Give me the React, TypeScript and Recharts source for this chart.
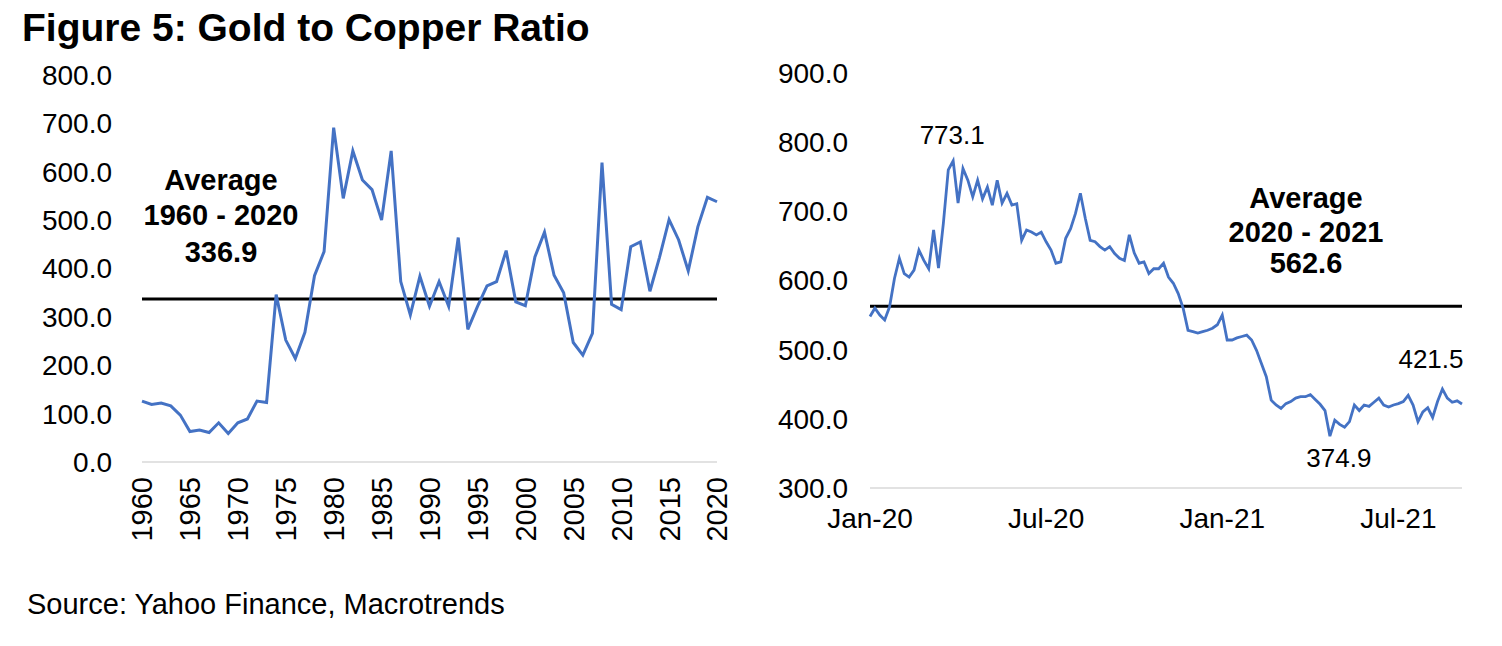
import React from "react";
import { LineChart, Line, XAxis, YAxis, ReferenceLine, ReferenceDot } from "recharts";

const FONT = "'Liberation Sans', Arial, Helvetica, sans-serif";
const BLUE = "#4472C4";

// left panel: annual gold/copper ratio 1960-2020
const annualRatio = [
  126, 119, 122, 116, 97, 63, 66, 61, 81, 59,
  81, 89, 126, 123, 346, 252, 214, 268, 385, 435,
  691, 545, 643, 583, 563, 500, 643, 373, 304, 384,
  322, 373, 322, 464, 274, 321, 364, 373, 437, 331,
  323, 424, 475, 386, 350, 247, 221, 266, 619, 326,
  315, 445, 455, 353, 423, 501, 459, 395, 486, 547,
  538,
];
const yearTicks = [1960, 1965, 1970, 1975, 1980, 1985, 1990, 1995, 2000, 2005, 2010, 2015, 2020];
const leftYTicks = [0, 100, 200, 300, 400, 500, 600, 700, 800];
const leftAverage = 336.9;

// right panel: roughly weekly readings Jan 2020 - Sep 2021
const weeklyRatio = [
  548, 560, 550, 543, 562, 603, 632, 610, 605, 615,
  644, 629, 617, 673, 618, 683, 760, 773.1, 712, 762,
  745, 721, 745, 718, 735, 709, 745, 712, 726, 709,
  711, 658, 673, 670, 666, 670, 656, 644, 625, 627,
  661, 675, 697, 726, 690, 658, 656, 649, 644, 649,
  639, 632, 629, 666, 640, 625, 627, 610, 617, 617,
  625, 605, 596, 581, 560, 528, 526, 524, 526, 528,
  531, 536, 550, 514, 514, 517, 519, 521, 514, 499,
  480, 461, 427, 420, 415, 422, 425, 430, 432, 432,
  435, 428, 421, 412, 374.9, 398, 392, 388, 396, 420,
  412, 420, 418, 424, 430, 420, 417, 420, 422, 425,
  434, 420, 396, 410, 416, 402, 425, 443, 430, 424,
  426, 421.5,
];
const dateTickIdx = [0, 36, 72, 108];
const dateTickLabels = ["Jan-20", "Jul-20", "Jan-21", "Jul-21"];
const rightYTicks = [300, 400, 500, 600, 700, 800, 900];
const rightAverage = 562.6;

const annualData = annualRatio.map((v, i) => ({ year: 1960 + i, ratio: v }));
const weeklyData = weeklyRatio.map((v, i) => ({ t: i, ratio: v }));

const maxIdx = weeklyRatio.indexOf(Math.max(...weeklyRatio));
const minIdx = weeklyRatio.indexOf(Math.min(...weeklyRatio));
const lastIdx = weeklyRatio.length - 1;

function YearTick({ x, y, payload }: any) {
  return (
    <text
      x={x}
      y={y}
      transform={`rotate(-90 ${x} ${y})`}
      textAnchor="end"
      dy="0.36em"
      fontSize={29}
      fontFamily={FONT}
      fill="#000"
    >
      {payload.value}
    </text>
  );
}

function DotLabel({ viewBox, text, dx = 0, dy = 0 }: any) {
  const cx = viewBox.x + viewBox.width / 2;
  const cy = viewBox.y + viewBox.height / 2;
  return (
    <text x={cx + dx} y={cy + dy} textAnchor="middle" fontSize={26} fontFamily={FONT} fill="#000">
      {text}
    </text>
  );
}

const tickStyle = { fontSize: 28, fill: "#000", fontFamily: FONT };

export default function App() {
  return (
    <div style={{ position: "absolute", left: 0, top: 0, width: 1502, height: 646, background: "#fff" }}>
      <div style={{ position: "absolute", left: 0, top: 0 }}>
        <LineChart width={760} height={646} data={annualData} margin={{ top: 75, right: 43, bottom: 0, left: 0 }}>
          <XAxis
            dataKey="year"
            type="number"
            domain={[1960, 2020]}
            ticks={yearTicks}
            interval={0}
            height={184}
            tickLine={false}
            tickSize={0}
            tickMargin={15}
            axisLine={{ stroke: "#d9d9d9", strokeWidth: 1.5 }}
            tick={<YearTick />}
          />
          <YAxis
            domain={[0, 800]}
            ticks={leftYTicks}
            width={142}
            axisLine={false}
            tickLine={false}
            tickSize={0}
            tickMargin={30}
            tick={tickStyle}
            tickFormatter={(v) => v.toFixed(1)}
          />
          <ReferenceLine y={leftAverage} stroke="#000" strokeWidth={3} />
          <Line dataKey="ratio" stroke={BLUE} strokeWidth={3} dot={false} isAnimationActive={false} />
        </LineChart>
      </div>
      <div style={{ position: "absolute", left: 740, top: 0 }}>
        <LineChart width={762} height={646} data={weeklyData} margin={{ top: 73, right: 40, bottom: 0, left: 0 }}>
          <XAxis
            dataKey="t"
            type="number"
            domain={[0, lastIdx]}
            ticks={dateTickIdx}
            interval={0}
            height={158}
            tickLine={false}
            tickSize={0}
            tickMargin={20}
            axisLine={{ stroke: "#d9d9d9", strokeWidth: 1.5 }}
            tick={tickStyle}
            tickFormatter={(v) => dateTickLabels[dateTickIdx.indexOf(v)] ?? ""}
          />
          <YAxis
            domain={[300, 900]}
            ticks={rightYTicks}
            width={130}
            axisLine={false}
            tickLine={false}
            tickSize={0}
            tickMargin={22}
            tick={tickStyle}
            tickFormatter={(v) => v.toFixed(1)}
          />
          <ReferenceLine y={rightAverage} stroke="#000" strokeWidth={3} />
          <Line dataKey="ratio" stroke={BLUE} strokeWidth={2.8} dot={false} isAnimationActive={false} />
          <ReferenceDot x={maxIdx} y={weeklyRatio[maxIdx]} r={1} fill="none" stroke="none"
            label={<DotLabel text={weeklyRatio[maxIdx].toFixed(1)} dx={-1} dy={-17} />} />
          <ReferenceDot x={minIdx} y={weeklyRatio[minIdx]} r={1} fill="none" stroke="none"
            label={<DotLabel text={weeklyRatio[minIdx].toFixed(1)} dx={9} dy={31} />} />
          <ReferenceDot x={lastIdx} y={weeklyRatio[lastIdx]} r={1} fill="none" stroke="none"
            label={<DotLabel text={weeklyRatio[lastIdx].toFixed(1)} dx={-31} dy={-36} />} />
        </LineChart>
      </div>
      <svg width={1502} height={646} style={{ position: "absolute", left: 0, top: 0, pointerEvents: "none" }}>
        <text x={22} y={41} fontSize={39} fontWeight="bold" fontFamily={FONT} fill="#000">
          Figure 5: Gold to Copper Ratio
        </text>
        <g fontSize={29} fontWeight="bold" fontFamily={FONT} fill="#000" textAnchor="middle">
          <text x={221} y={190}>Average</text>
          <text x={221} y={225}>1960 - 2020</text>
          <text x={221} y={262}>{leftAverage.toFixed(1)}</text>
          <text x={1306} y={208}>Average</text>
          <text x={1306} y={242}>2020 - 2021</text>
          <text x={1306} y={273}>{rightAverage.toFixed(1)}</text>
        </g>
        <text x={27} y={614} fontSize={29} fontFamily={FONT} fill="#000">
          Source: Yahoo Finance, Macrotrends
        </text>
      </svg>
    </div>
  );
}
